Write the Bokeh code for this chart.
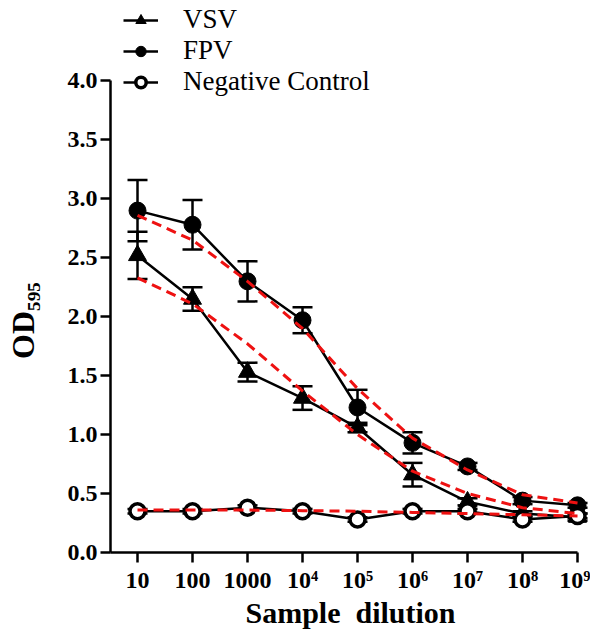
import math
from bokeh.plotting import figure
from bokeh.models import (ColumnDataSource, Range1d, FixedTicker, NumeralTickFormatter,
                          Whisker, TeeHead, Legend, LegendItem)
from bokeh.embed import file_html
from bokeh.resources import INLINE

# ---------------- data ----------------
dilution_labels = ["10", "100", "1000", "10\u2074", "10\u2075", "10\u2076", "10\u2077", "10\u2078", "10\u2079"]
x_pos = list(range(len(dilution_labels)))

vsv = [2.52, 2.15, 1.53, 1.31, 1.06, 0.66, 0.43, 0.33, 0.30]
vsv_err = [0.20, 0.10, 0.08, 0.10, 0.04, 0.10, 0.03, 0.02, 0.03]
vsv_fit = [2.33, 2.11, 1.77, 1.37, 1.00, 0.69, 0.50, 0.38, 0.33]

fpv = [2.90, 2.78, 2.30, 1.97, 1.23, 0.93, 0.73, 0.44, 0.40]
fpv_err = [0.26, 0.21, 0.17, 0.11, 0.15, 0.09, 0.03, 0.03, 0.02]
fpv_fit = [2.86, 2.65, 2.30, 1.90, 1.39, 0.97, 0.70, 0.49, 0.42]

nc = [0.35, 0.35, 0.38, 0.35, 0.28, 0.35, 0.35, 0.28, 0.31]
nc_err = [0.02, 0.02, 0.02, 0.02, 0.02, 0.02, 0.02, 0.02, 0.02]
nc_fit = [0.36, 0.36, 0.36, 0.355, 0.35, 0.34, 0.33, 0.32, 0.31]

y_ticks = [0.0, 0.5, 1.0, 1.5, 2.0, 2.5, 3.0, 3.5, 4.0]

series_names = ["VSV", "FPV", "Negative Control"]
y_title = "OD\u2085\u2089\u2085" + "\u00a0" * 11   # trailing spaces centre the title on the 0-4 axis span
x_title = "Sample\u00a0 dilution"

FONT = "Liberation Serif"

p = figure(width=590, height=637, output_backend="svg", toolbar_location=None,
           x_range=Range1d(-0.491, 8.236), y_range=Range1d(0, 4.682),
           min_border_left=110, min_border_right=0, min_border_top=0, min_border_bottom=85)
p.outline_line_color = None
p.xgrid.visible = False
p.ygrid.visible = False
p.background_fill_color = "white"

def err_src(vals, errs):
    return ColumnDataSource(dict(x=x_pos, y=vals,
                                 lo=[v - e for v, e in zip(vals, errs)],
                                 hi=[v + e for v, e in zip(vals, errs)]))

srcs = [err_src(vsv, vsv_err), err_src(fpv, fpv_err), err_src(nc, nc_err)]
for s in srcs:
    w = Whisker(source=s, base="x", lower="lo", upper="hi", line_color="black", line_width=2.5,
                upper_head=TeeHead(size=20, line_width=2.5, line_color="black"),
                lower_head=TeeHead(size=20, line_width=2.5, line_color="black"))
    p.add_layout(w)

lines = []
marks = []
styles = [
    dict(marker="triangle", size=18, fill_color="black", line_color="black", line_width=1),
    dict(marker="circle", size=17, fill_color="black", line_color="black", line_width=1),
    dict(marker="circle", size=15, fill_color="white", line_color="black", line_width=3.5),
]
for s, st in zip(srcs, styles):
    lr = p.line("x", "y", source=s, line_color="black", line_width=2.5)
    mr = p.scatter("x", "y", source=s, **st)
    lines.append(lr)
    marks.append(mr)

for fit in [vsv_fit, fpv_fit, nc_fit]:
    p.line(x_pos, fit, line_color="#ee1111", line_width=3, line_dash="10 6")

# axes
p.xaxis.ticker = FixedTicker(ticks=x_pos)
p.xaxis.major_label_overrides = {i: lab for i, lab in zip(x_pos, dilution_labels)}
p.xaxis.bounds = (-0.491, 8)
p.yaxis.ticker = FixedTicker(ticks=y_ticks)
p.yaxis.formatter = NumeralTickFormatter(format="0.0")
p.yaxis.bounds = (0, 4)
for ax in [p.xaxis[0], p.yaxis[0]]:
    ax.axis_line_width = 2.5
    ax.axis_line_color = "black"
    ax.major_tick_line_width = 2.5
    ax.major_tick_line_color = "black"
    ax.major_tick_out = 10
    ax.major_tick_in = 0
    ax.minor_tick_line_color = None
    ax.major_label_text_font = FONT
    ax.major_label_text_font_style = "bold"
    ax.major_label_text_font_size = "24px"
    ax.major_label_text_color = "black"
    ax.axis_label_text_font = FONT
    ax.axis_label_text_font_style = "bold"
    ax.axis_label_text_color = "black"
p.yaxis.major_label_standoff = 3
p.xaxis.major_label_standoff = 4
p.xaxis.axis_label = x_title
p.xaxis.axis_label_text_font_size = "30px"
p.xaxis.axis_label_standoff = 0
p.yaxis.axis_label = y_title
p.yaxis.axis_label_text_font_size = "32px"
p.yaxis.axis_label_standoff = 24

items = [LegendItem(label=n, renderers=[l, m]) for n, l, m in zip(series_names, lines, marks)]
legend = Legend(items=items, location=(13, 455), border_line_color=None, background_fill_alpha=0,
                label_text_font=FONT, label_text_font_size="27px", label_text_color="black",
                glyph_width=35, glyph_height=26, label_height=26, spacing=0, padding=0, margin=0,
                label_standoff=25)
p.add_layout(legend, "center")

open("out.html", "w").write(file_html(p, INLINE))
